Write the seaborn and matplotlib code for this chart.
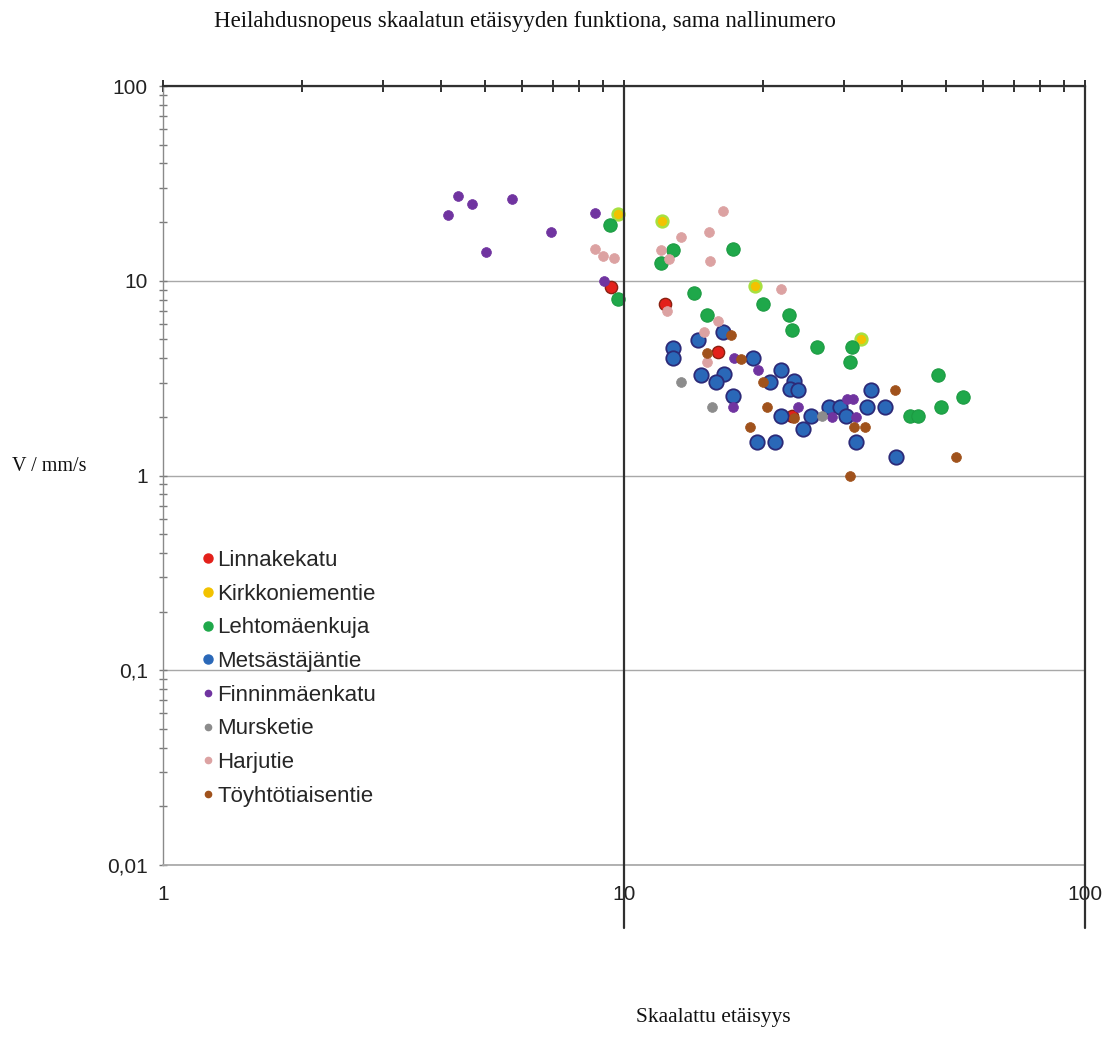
import pandas as pd
import numpy as np
import seaborn as sns
import matplotlib.pyplot as plt
from matplotlib.lines import Line2D
from matplotlib.ticker import FixedLocator, LogLocator, NullFormatter, FuncFormatter

sns.set_theme(style="white")
plt.rcParams['font.family'] = ['Liberation Sans', 'DejaVu Sans']
serif = ['Liberation Serif', 'DejaVu Serif']

# values (x = scaled distance, y = V mm/s)
linnakekatu_x = [9.36, 12.3, 16.0, 23.2]
linnakekatu_y = [9.24, 7.6, 4.29, 2.01]

kirkkoniementie_x = [9.69, 12.07, 19.2, 32.7]
kirkkoniementie_y = [22.0, 20.2, 9.43, 5.02]

lehtomaenkuja_x = [9.33, 9.70, 12.75, 12.05, 17.2, 14.2, 20.0, 15.1, 22.8, 23.2,
                   26.2, 31.2, 30.9, 48.0, 54.5, 48.8, 41.7, 43.4]
lehtomaenkuja_y = [19.4, 8.09, 14.3, 12.4, 14.6, 8.61, 7.56, 6.64, 6.64, 5.56,
                   4.57, 4.56, 3.83, 3.27, 2.52, 2.26, 2.03, 2.03]

metsastajantie_x = [16.4, 14.5, 12.8, 12.8, 19.0, 21.9, 14.7, 16.5, 15.8, 20.7,
                    23.4, 22.9, 23.9, 17.2, 21.9, 25.4, 24.5, 19.4, 21.3, 34.3,
                    36.9, 33.6, 27.8, 29.4, 30.3, 31.8, 39.0]
metsastajantie_y = [5.43, 4.98, 4.52, 4.0, 4.0, 3.5, 3.28, 3.33, 3.03, 3.01,
                    3.04, 2.78, 2.75, 2.55, 2.02, 2.02, 1.74, 1.48, 1.48, 2.75,
                    2.26, 2.26, 2.26, 2.26, 2.02, 1.49, 1.25]

finninmaenkatu_x = [4.36, 4.69, 4.16, 5.71, 6.93, 5.01, 8.66, 9.06, 17.3, 19.5,
                    17.2, 23.8, 31.4, 30.5, 28.3, 31.9]
finninmaenkatu_y = [27.1, 24.8, 21.7, 26.4, 17.8, 14.0, 22.2, 10.0, 4.0, 3.5,
                    2.26, 2.26, 2.47, 2.47, 1.99, 2.0]

mursketie_x = [13.3, 15.5, 26.9]
mursketie_y = [3.03, 2.26, 2.02]

harjutie_x = [8.65, 8.99, 9.51, 16.4, 15.3, 13.3, 12.0, 12.5, 15.4, 21.9,
              12.4, 16.0, 14.9, 15.1]
harjutie_y = [14.6, 13.4, 13.1, 22.8, 17.8, 16.8, 14.4, 13.0, 12.6, 9.07,
              6.96, 6.21, 5.46, 3.81]

toyhtotiaisentie_x = [17.1, 15.1, 17.9, 20.0, 20.4, 23.4, 18.8, 38.7, 31.5, 33.4,
                      52.5, 30.9]
toyhtotiaisentie_y = [5.24, 4.27, 3.98, 3.01, 2.26, 1.98, 1.78, 2.75, 1.78, 1.78,
                      1.25, 1.0]

series = ["Linnakekatu", "Kirkkoniementie", "Lehtomäenkuja", "Metsästäjäntie",
          "Finninmäenkatu", "Mursketie", "Harjutie", "Töyhtötiaisentie"]
xs = [linnakekatu_x, kirkkoniementie_x, lehtomaenkuja_x, metsastajantie_x,
      finninmaenkatu_x, mursketie_x, harjutie_x, toyhtotiaisentie_x]
ys = [linnakekatu_y, kirkkoniementie_y, lehtomaenkuja_y, metsastajantie_y,
      finninmaenkatu_y, mursketie_y, harjutie_y, toyhtotiaisentie_y]

# face, edge, scatter size, edge width, legend marker size
style = {
    "Linnakekatu":      ("#e3201a", "#8a2010", 78, 1.0, 6.5),
    "Kirkkoniementie":  ("#f2c200", "#a8e040", 72, 1.8, 6.5),
    "Lehtomäenkuja":    ("#1fa84a", "#1c9a42", 92, 0.8, 6.5),
    "Metsästäjäntie":   ("#2a68b8", "#2c2a78", 108, 1.3, 6.5),
    "Finninmäenkatu":   ("#7034a0", "#7034a0", 50, 0.5, 4.5),
    "Mursketie":        ("#8c8c8c", "#8c8c8c", 50, 0.5, 4.5),
    "Harjutie":         ("#dca2a2", "#dca2a2", 50, 0.5, 4.5),
    "Töyhtötiaisentie": ("#a0521c", "#a0521c", 50, 0.5, 4.5),
}

df = pd.concat([pd.DataFrame({"x": x, "y": y, "kohde": name})
                for name, x, y in zip(series, xs, ys)], ignore_index=True)

fig = plt.figure(figsize=(11.12, 10.41), dpi=100)
ax = fig.add_axes([163/1112, 1-865/1041, 922/1112, 779/1041])

for name in series:
    face, edge, s, lw, _ = style[name]
    sns.scatterplot(data=df[df["kohde"] == name], x="x", y="y", color=face,
                    edgecolor=edge, linewidth=lw, s=s, ax=ax, legend=False, zorder=3)

ax.set_xscale("log")
ax.set_yscale("log")
ax.set_xlim(1, 100)
ax.set_ylim(0.01, 100)

ax.xaxis.set_major_locator(FixedLocator([1, 10, 100]))
ax.xaxis.set_minor_locator(LogLocator(base=10, subs=range(2, 10)))
ax.xaxis.set_minor_formatter(NullFormatter())
ax.xaxis.set_major_formatter(FuncFormatter(lambda v, p: f"{v:g}"))
ax.yaxis.set_major_locator(FixedLocator([0.01, 0.1, 1, 10, 100]))
ax.yaxis.set_minor_locator(LogLocator(base=10, subs=range(2, 10)))
ax.yaxis.set_minor_formatter(NullFormatter())
ax.yaxis.set_major_formatter(FuncFormatter(lambda v, p: f"{v:g}".replace(".", ",")))

ax.tick_params(axis="x", which="both", top=True, bottom=False, labeltop=False,
               labelbottom=True, direction="inout", length=9, width=1.4,
               color="#303030", pad=10, labelsize=15, labelcolor="#222222")
ax.tick_params(axis="y", which="both", left=True, direction="inout", length=6,
               width=1, color="#7a7a7a", pad=8, labelsize=15, labelcolor="#222222")

ax.yaxis.grid(True, which="major", color="#a8a8a8", lw=1)
ax.xaxis.grid(False)
ax.spines["top"].set_color("#303030")
ax.spines["top"].set_linewidth(1.6)
ax.spines["left"].set_color("#8a8a8a")
ax.spines["left"].set_linewidth(1)
ax.spines["bottom"].set_color("#a8a8a8")
ax.spines["right"].set_visible(False)

for xv in [10, 100]:
    ax.axvline(xv, ymin=-0.081, ymax=1, color="#303030", lw=1.6, clip_on=False, zorder=4)

handles = [Line2D([], [], marker="o", ls="", markerfacecolor=style[n][0],
                  markeredgecolor=style[n][0], markersize=style[n][4]) for n in series]
ax.legend(handles, series, loc="upper left", bbox_to_anchor=(190/1112, 1-539/1041),
          bbox_transform=fig.transFigure, frameon=False, fontsize=16,
          handlelength=0.6, handletextpad=0.12, labelspacing=0.57, borderpad=0)

fig.text(525/1112, 1-22/1041, "Heilahdusnopeus skaalatun etäisyyden funktiona, sama nallinumero",
         ha="center", va="center", fontsize=16.5, family=serif, color="#111111")
ax.set_xlabel("Skaalattu etäisyys", fontsize=15.5, family=serif, color="#111111")
ax.xaxis.set_label_coords((713-163)/922, (865-1008)/779)
ax.set_ylabel("V / mm/s", rotation=0, ha="center", va="center", fontsize=14.5,
              family=serif, color="#111111")
ax.yaxis.set_label_coords((49-163)/922, (865-467)/779)

fig.savefig("out.png", dpi=100)
